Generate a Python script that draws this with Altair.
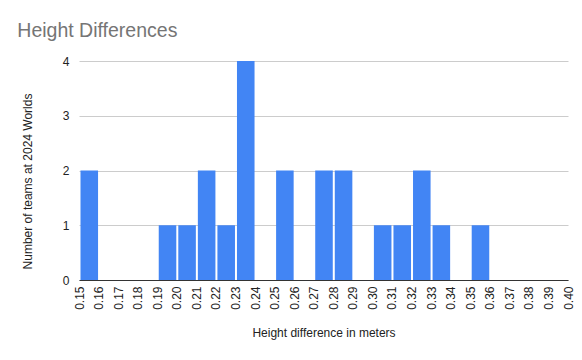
import altair as alt
import pandas as pd

bin_start = [0.15, 0.19, 0.20, 0.21, 0.22, 0.23, 0.25, 0.27, 0.28, 0.30, 0.31, 0.32, 0.33, 0.35]
counts = [2, 1, 1, 2, 1, 4, 2, 2, 2, 1, 1, 2, 1, 1]
tick_values = [round(0.15 + 0.01 * i, 2) for i in range(26)]

df = pd.DataFrame({
    "start": bin_start,
    "end": [round(s + 0.01, 2) for s in bin_start],
    "count": counts,
})

font = "Liberation Sans"

chart = alt.Chart(df).mark_bar(color="#4285F4", binSpacing=2).encode(
    x=alt.X(
        "start:Q",
        bin="binned",
        scale=alt.Scale(domain=[0.15, 0.40], nice=False, zero=False),
        axis=alt.Axis(
            values=tick_values,
            format=".2f",
            labelAngle=-90,
            labelAlign="right",
            labelBaseline="middle",
            labelPadding=6,
            labelFontSize=12,
            labelColor="#222222",
            labelFont=font,
            ticks=False,
            grid=False,
            domainColor="#333333",
            title="Height difference in meters",
            titleFont=font,
            titleFontSize=12,
            titleFontWeight="normal",
            titleColor="#222222",
            titlePadding=18,
            labelOverlap=False,
        ),
    ),
    x2="end:Q",
    y=alt.Y(
        "count:Q",
        scale=alt.Scale(domain=[0, 4]),
        axis=alt.Axis(
            values=[0, 1, 2, 3, 4],
            format="d",
            labelFontSize=12,
            labelColor="#222222",
            labelFont=font,
            labelPadding=10,
            ticks=False,
            domain=False,
            gridColor="#cccccc",
            title="Number of teams at 2024 Worlds",
            titleFont=font,
            titleFontSize=12,
            titleFontWeight="normal",
            titleColor="#222222",
            titlePadding=28,
            titleY=120,
        ),
    ),
).properties(
    width=489,
    height=219,
    autosize=alt.AutoSizeParams(type="none"),
    padding={"left": 71, "top": 53, "right": 6, "bottom": 72},
    title=alt.TitleParams(
        "Height Differences",
        anchor="start",
        font=font,
        fontSize=19.5,
        fontWeight="normal",
        color="#757575",
        dx=-4,
        offset=14,
    ),
).configure_view(stroke=None)

chart.save("out.html", embed_options={"renderer": "svg", "actions": False})
